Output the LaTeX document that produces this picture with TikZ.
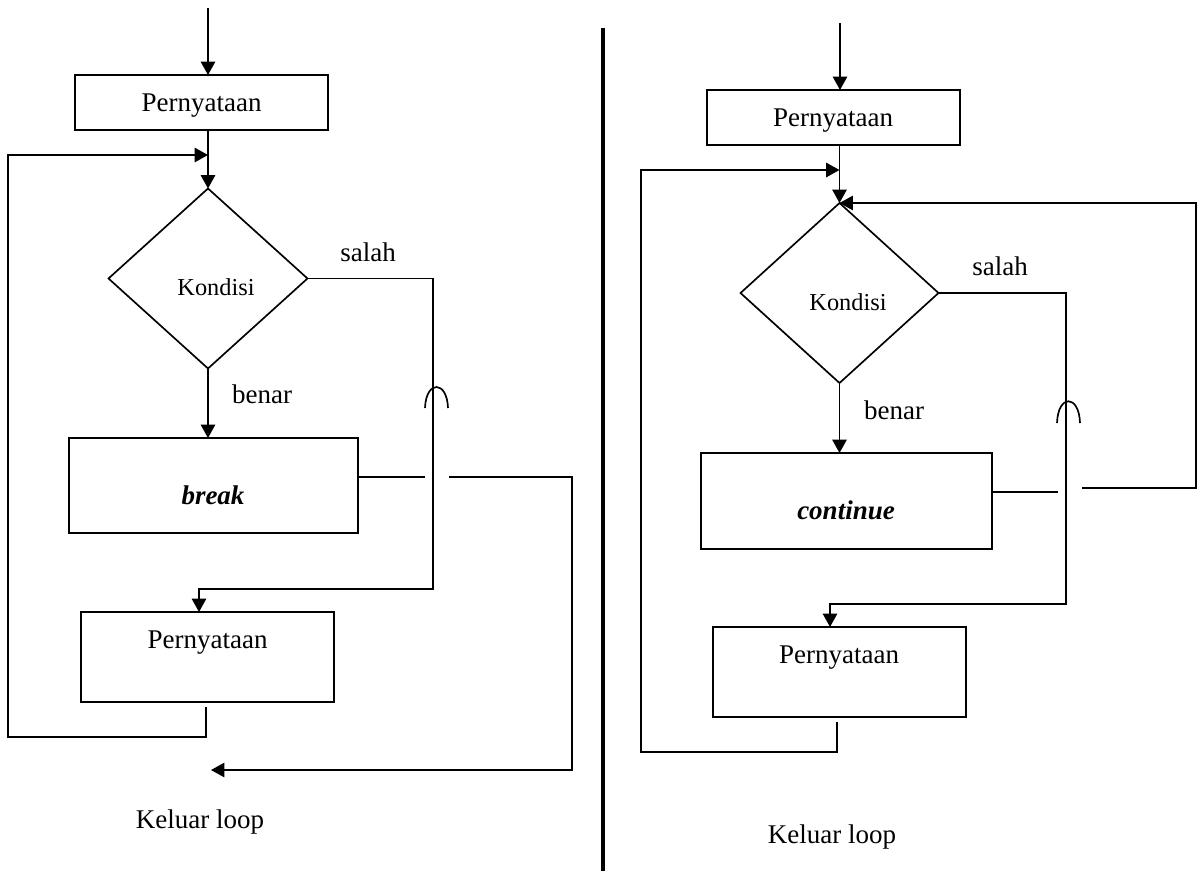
\documentclass[tikz,border=0pt]{standalone}
\usepackage{fontspec}
\setmainfont{Liberation Serif}
\usetikzlibrary{shapes.geometric,arrows.meta}
\def\unitpx{0.6pt}
\begin{document}
\begin{tikzpicture}[x=0.6pt,y=-0.6pt,
  line width=1pt,
  box/.style={draw,rectangle,inner sep=0pt,outer sep=0pt},
  cond/.style={draw,diamond,inner sep=0pt,outer sep=0pt,minimum width=199*\unitpx,minimum height=180*\unitpx},
  txt/.style={inner sep=0pt,anchor=base,font=\fontsize{16.2pt}{19pt}\selectfont},
  ctxt/.style={inner sep=0pt,anchor=base,font=\fontsize{14.6pt}{17pt}\selectfont},
  arr/.style={-{Triangle[length=8pt,width=8.6pt]}},
  divider/.style={line width=2.8pt}
]
\useasboundingbox (0,0) rectangle (1197,871);

% ================= LEFT (break) =================
\node[box,minimum width=253*\unitpx,minimum height=55*\unitpx] (Lb1) at (201.5,102.5) {};
\node[txt] (Lb1t) at (201.7,112) {Pernyataan};
\node[cond] (Ld) at (208,278.5) {};
\node[ctxt] (Ldt) at (216,295) {Kondisi};
\node[box,minimum width=289*\unitpx,minimum height=95*\unitpx] (Lb2) at (213.5,485.5) {};
\node[txt] (Lb2t) at (213,504) {\textbf{\textit{break}}};
\node[box,minimum width=253*\unitpx,minimum height=90*\unitpx] (Lb3) at (207.5,657) {};
\node[txt] (Lb3t) at (207.6,648) {Pernyataan};
\node[txt] (Lsalah) at (368,261) {salah};
\node[txt] (Lbenar) at (262,403) {benar};
\node[txt] (Lkeluar) at (200,828) {Keluar loop};

\coordinate (Ltop) at (208,8);
\coordinate (Lj) at (208,155);
\coordinate (Lb3out) at (206,707);
\coordinate (Lin) at (199,589);
\coordinate (Lbrk) at (425,477);
\coordinate (Lbrk2) at (449,477);
\coordinate (Lexit) at (211,770);

\draw[arr] (Ltop) -- (Ltop |- Lb1.north);
\draw[arr] (Lj |- Lb1.south) -- (Ld.north);
\draw[arr] (Lb3out) -- (206,737) -- (8,737) -- (8,155) -- (Lj);
\draw[arr] (Ld.south) -- (Lb2.north -| Ld.south);
\draw[arr] (Ld.east) -- (433,278.5) -- (433,589) -- (Lin) -- (Lin |- Lb3.north);
\draw (425,408) .. controls (426,380) and (447,380) .. (448,408);
\draw (Lbrk -| Lb2.east) -- (Lbrk);
\draw[arr] (Lbrk2) -- (572,477) -- (572,770) -- (Lexit);

% ================= divider =================
\coordinate (Dtop) at (603,28);
\coordinate (Dbot) at (603,871);
\draw[divider] (Dtop) -- (Dbot);

% ================= RIGHT (continue) =================
\node[box,minimum width=253*\unitpx,minimum height=55*\unitpx] (Rb1) at (833.5,117.5) {};
\node[txt] (Rb1t) at (833,127) {Pernyataan};
\node[cond,minimum width=198*\unitpx] (Rd) at (839.5,293) {};
\node[ctxt] (Rdt) at (848,310) {Kondisi};
\node[box,minimum width=291*\unitpx,minimum height=96*\unitpx] (Rb2) at (846.5,501) {};
\node[txt] (Rb2t) at (846,519) {\textbf{\textit{continue}}};
\node[box,minimum width=253*\unitpx,minimum height=90*\unitpx] (Rb3) at (839.5,672) {};
\node[txt] (Rb3t) at (839,663) {Pernyataan};
\node[txt] (Rsalah) at (1000,276) {salah};
\node[txt] (Rbenar) at (894,419) {benar};
\node[txt] (Rkeluar) at (832,843) {Keluar loop};

\coordinate (Rtop) at (840,23);
\coordinate (Rj) at (839.5,170);
\coordinate (Rb3out) at (837,722);
\coordinate (Rin) at (830,604);
\coordinate (Rcnt) at (1058,492);
\coordinate (Rcnt2) at (1082,488);

\draw[arr] (Rtop) -- (Rtop |- Rb1.north);
\draw[arr] (Rj |- Rb1.south) -- (Rd.north);
\draw[arr] (Rb3out) -- (837,752) -- (641,752) -- (641,170) -- (Rj);
\draw[arr] (Rd.south) -- (Rb2.north -| Rd.south);
\draw[arr] (Rd.east) -- (1066,293) -- (1066,604) -- (Rin) -- (Rin |- Rb3.north);
\draw (1057,423) .. controls (1058,394) and (1079,394) .. (1080,423);
\draw (Rcnt -| Rb2.east) -- (Rcnt);
\draw[arr] (Rcnt2) -- (1196,488) -- (1196,203) -- (Rd.north);
\end{tikzpicture}
\end{document}
